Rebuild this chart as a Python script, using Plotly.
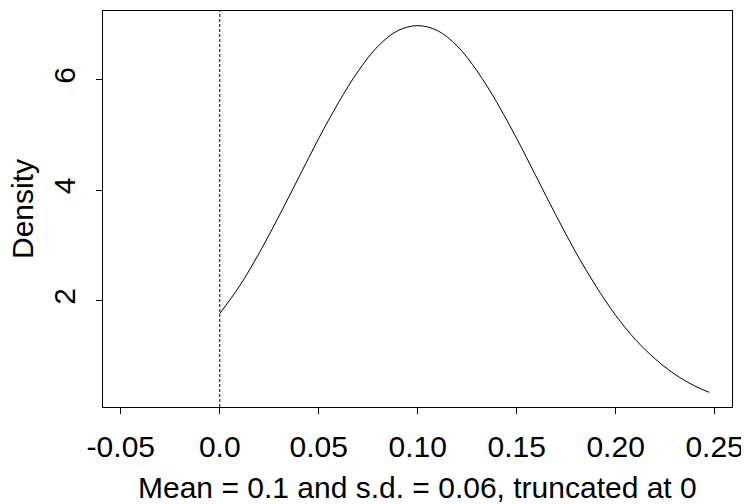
import plotly.graph_objects as go

# values
x_vals = [0.0, 0.01, 0.02, 0.03, 0.04, 0.05, 0.06, 0.07, 0.08, 0.09, 0.10,
          0.11, 0.12, 0.13, 0.14, 0.15, 0.16, 0.17, 0.18, 0.19, 0.20,
          0.21, 0.22, 0.23, 0.24, 0.2473]
density = [1.77, 2.27, 2.87, 3.54, 4.24, 4.94, 5.59, 6.16, 6.61, 6.89, 6.98,
           6.89, 6.61, 6.16, 5.59, 4.94, 4.24, 3.54, 2.87, 2.27, 1.74,
           1.30, 0.95, 0.67, 0.46, 0.345]
truncation = 0.0
x_ticks = [-0.05, 0.0, 0.05, 0.10, 0.15, 0.20, 0.25]
x_tick_labels = ["-0.05", "0.0", "0.05", "0.10", "0.15", "0.20", "0.25"]
y_ticks = [2, 4, 6]
y_tick_labels = ["2", "4", "6"]
x_title = "Mean = 0.1 and s.d. = 0.06, truncated at 0"
y_title = "Density"

FONT = "Liberation Sans, Arial, sans-serif"
FS = 30

fig = go.Figure()
fig.add_trace(go.Scatter(x=x_vals, y=density, mode="lines",
                         line=dict(color="black", width=1, shape="spline"),
                         hoverinfo="skip", showlegend=False))

fig.add_shape(type="line", xref="x", yref="paper", x0=truncation, x1=truncation,
              y0=0, y1=1, line=dict(color="black", width=1, dash="3px,2px"))

# page body has an 8px default margin, so the figure is shifted by 8px
fig.update_layout(
    width=741, height=496,
    margin=dict(l=95, r=17, t=3, b=97),
    paper_bgcolor="white", plot_bgcolor="white",
    font=dict(family=FONT, size=FS, color="black"),
    showlegend=False,
    xaxis=dict(range=[-0.059, 0.2588], tickvals=x_ticks, ticktext=x_tick_labels,
               showgrid=False, zeroline=False, showline=True, mirror=True,
               linecolor="black", linewidth=1, ticks="outside", ticklen=6,
               tickcolor="black", tickwidth=1, tickfont=dict(size=FS),
               ticklabelstandoff=7, automargin=False),
    yaxis=dict(range=[0.08, 7.245], tickvals=y_ticks, ticktext=y_tick_labels,
               showgrid=False, zeroline=False, showline=True, mirror=True,
               linecolor="black", linewidth=1, ticks="outside", ticklen=6,
               tickcolor="black", tickwidth=1, tickangle=-90,
               tickfont=dict(size=FS), ticklabelstandoff=9, automargin=False),
    annotations=[
        dict(text=x_title, xref="paper", yref="paper", x=0.5, y=0,
             yshift=-80, xanchor="center", yanchor="middle", showarrow=False,
             font=dict(size=FS)),
        dict(text=y_title, xref="paper", yref="paper", x=0, y=0.5,
             xshift=-81, textangle=-90, xanchor="center", yanchor="middle",
             showarrow=False, font=dict(size=FS)),
    ],
)

fig.write_html("out.html")
